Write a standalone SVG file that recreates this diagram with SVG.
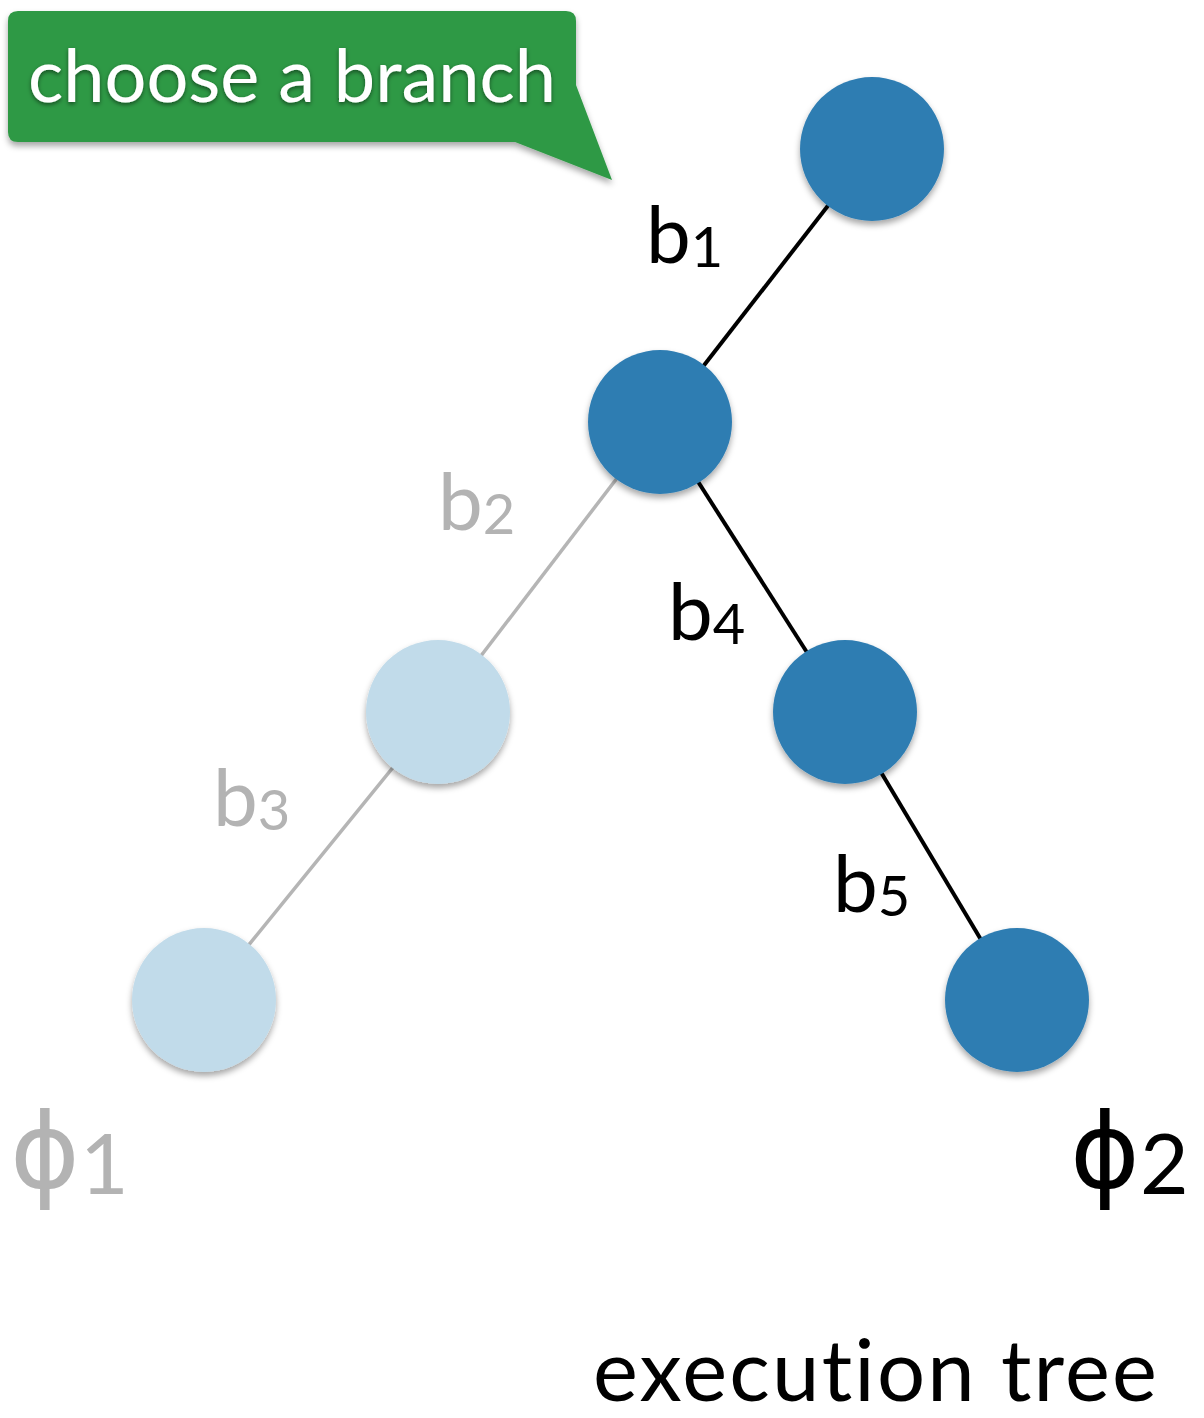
<svg xmlns="http://www.w3.org/2000/svg" width="1204" height="1418" viewBox="0 0 1204 1418">
<defs>
<filter id="sh" x="-30%" y="-30%" width="160%" height="170%">
<feDropShadow dx="0" dy="4" stdDeviation="3" flood-color="#000" flood-opacity="0.35"/>
</filter>
<filter id="tsh" x="-10%" y="-20%" width="120%" height="150%">
<feDropShadow dx="0" dy="2" stdDeviation="2" flood-color="#000" flood-opacity="0.5"/>
</filter>
</defs>
<style>
.dark{fill:#2f7db2;filter:url(#sh)}
.light{fill:#c1dbea;filter:url(#sh)}
.eb{stroke:#000;stroke-width:4;fill:none}
.eg{stroke:#b5b5b5;stroke-width:3.5;fill:none}
.lbl{font-family:Lato,"Open Sans","Liberation Sans",sans-serif;font-size:80px;font-variant-ligatures:none}
.sub{font-size:56px}
.phi{font-family:"DejaVu Sans","Liberation Sans",sans-serif;font-size:106px}
.phisub{font-family:Lato,"Liberation Sans",sans-serif;font-size:84px}
.blk{fill:#000}
.gry{fill:#b3b3b3}
</style>
<g id="callout">
<path d="M18,11 H566 Q576,11 576,21 V85 L612,180 L515,142 H18 Q8,142 8,132 V21 Q8,11 18,11 Z" fill="#2f9945" filter="url(#sh)"/>
<text x="28" y="102" fill="#fff" font-family="Lato,'Open Sans','Liberation Sans',sans-serif" font-size="74" textLength="528" filter="url(#tsh)">choose a branch</text>
</g>
<g id="edges">
<line class="eb" x1="872" y1="149" x2="660" y2="422"/>
<line class="eg" x1="660" y1="422" x2="438" y2="712"/>
<line class="eg" x1="438" y1="712" x2="204" y2="1000"/>
<line class="eb" x1="660" y1="422" x2="845" y2="712"/>
<line class="eb" x1="845" y1="712" x2="1017" y2="1000"/>
</g>
<g id="n1"><circle class="dark" cx="872" cy="149" r="72"/></g>
<g id="n2"><circle class="dark" cx="660" cy="422" r="72"/></g>
<g id="n3"><circle class="light" cx="438" cy="712" r="72"/></g>
<g id="n4"><circle class="dark" cx="845" cy="712" r="72"/></g>
<g id="n5"><circle class="light" cx="204" cy="1000" r="72"/></g>
<g id="n6"><circle class="dark" cx="1017" cy="1000" r="72"/></g>
<g id="labels">
<text class="lbl blk" x="646" y="263">b<tspan class="sub" dy="4">1</tspan></text>
<text class="lbl gry" x="438" y="530">b<tspan class="sub" dy="4">2</tspan></text>
<text class="lbl blk" x="668" y="640">b<tspan class="sub" dy="4">4</tspan></text>
<text class="lbl gry" x="213" y="826">b<tspan class="sub" dy="4">3</tspan></text>
<text class="lbl blk" x="833" y="912">b<tspan class="sub" dy="4">5</tspan></text>
<text class="phi gry" x="10" y="1188">ϕ<tspan class="phisub" dy="6">1</tspan></text>
<text class="phi blk" x="1070" y="1188">ϕ<tspan class="phisub" dy="6">2</tspan></text>
<text class="lbl blk" x="593" y="1401" style="font-size:85px" textLength="564">execution tree</text>
</g>
</svg>
